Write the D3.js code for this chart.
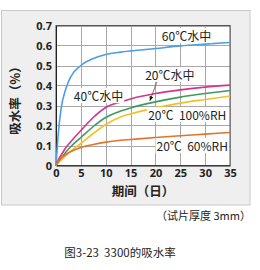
<!DOCTYPE html>
<html>
<head>
<meta charset="utf-8">
<script src="https://cdn.jsdelivr.net/npm/d3@7"></script>
<style>
  body { margin: 0; background: #fff; }
  svg text { font-family: "Noto Sans CJK SC", "Noto Sans", sans-serif; }
</style>
</head>
<body>
<div id="chart"></div>
<script>
// days on the x axis
const days = [0, 0.5, 1, 2, 3, 5, 7.5, 10, 13, 15, 20, 25, 30, 35];

// absorption (%) per condition
const water60 = [0, 0.17, 0.28, 0.385, 0.445, 0.50, 0.535, 0.555, 0.567, 0.573, 0.585, 0.598, 0.607, 0.615];
const water40 = [0, 0.03, 0.05, 0.09, 0.12, 0.175, 0.24, 0.29, 0.318, 0.333, 0.36, 0.378, 0.392, 0.402];
const water20 = [0, 0.02, 0.035, 0.068, 0.095, 0.14, 0.195, 0.24, 0.272, 0.288, 0.318, 0.342, 0.36, 0.375];
const rh100 = [0, 0.014, 0.025, 0.05, 0.072, 0.11, 0.16, 0.205, 0.243, 0.258, 0.288, 0.312, 0.33, 0.347];
const rh60 = [0, 0.02, 0.035, 0.055, 0.07, 0.09, 0.105, 0.117, 0.126, 0.13, 0.14, 0.149, 0.157, 0.165];

const xTicks = [0, 5, 10, 15, 20, 25, 30, 35];
const yTicks = [0, 0.1, 0.2, 0.3, 0.4, 0.5, 0.6, 0.7];

const series = [
    { name: "60℃水中", values: water60, color: "#4a9ee6" },
    { name: "40℃水中", values: water40, color: "#d6338c" },
    { name: "20℃水中", values: water20, color: "#3f9a5e" },
    { name: "20℃ 100%RH", values: rh100, color: "#f2c124" },
    { name: "20℃ 60%RH", values: rh60, color: "#e0742a" }
];

const width = 260, height = 270;
const plot = { left: 56, right: 230, top: 25.5, bottom: 165.5 };

const svg = d3.select("#chart").append("svg")
    .attr("width", width).attr("height", height);

// outer grey frame
svg.append("rect")
    .attr("x", 1.5).attr("y", 10.5).attr("width", 248.5).attr("height", 194.5)
    .attr("fill", "#efefef").attr("stroke", "#c8c8c8");

const x = d3.scaleLinear().domain([0, 35]).range([plot.left, plot.right]);
const y = d3.scaleLinear().domain([0, 0.7]).range([plot.bottom, plot.top]);

svg.append("rect")
    .attr("x", plot.left).attr("y", plot.top)
    .attr("width", plot.right - plot.left).attr("height", plot.bottom - plot.top)
    .attr("fill", "#fff");

// grid
let grid = svg.append("g").attr("stroke", "#a8a8a8").attr("stroke-width", 1);
grid.selectAll(".v").data(xTicks.slice(1)).enter().append("line")
    .attr("x1", d => Math.round(x(d)) + 0.5).attr("x2", d => Math.round(x(d)) + 0.5)
    .attr("y1", plot.top).attr("y2", plot.bottom);
grid.selectAll(".h").data(yTicks.slice(1)).enter().append("line")
    .attr("y1", d => Math.round(y(d)) + 0.5).attr("y2", d => Math.round(y(d)) + 0.5)
    .attr("x1", plot.left).attr("x2", plot.right);

// plot border
svg.append("rect")
    .attr("x", plot.left).attr("y", plot.top)
    .attr("width", plot.right - plot.left).attr("height", plot.bottom - plot.top)
    .attr("fill", "none").attr("stroke", "#555").attr("stroke-width", 1);

// axes
let xAxis = svg.append("g").attr("transform", `translate(0,${plot.bottom})`)
    .call(d3.axisBottom(x).tickValues(xTicks).tickSize(0).tickPadding(4));
let yAxis = svg.append("g").attr("transform", `translate(${plot.left},0)`)
    .call(d3.axisLeft(y).tickValues(yTicks).tickSize(0).tickPadding(4)
        .tickFormat(d => d === 0 ? "0" : d3.format(".1f")(d)));
[xAxis, yAxis].forEach(a => {
    a.select(".domain").attr("stroke", "#222");
    a.selectAll("text").attr("font-size", 11).attr("font-weight", 700).attr("fill", "#222")
        .style("font-family", "'Open Sans', 'Noto Sans', sans-serif");
});

// curves
const line = d3.line().x((d, i) => x(days[i])).y(d => y(d)).curve(d3.curveMonotoneX);
svg.append("g").selectAll("path").data(series).enter().append("path")
    .attr("d", d => line(d.values))
    .attr("fill", "none").attr("stroke", d => d.color).attr("stroke-width", 1.6);

// labels on the curves, with a white box behind each
const labels = [
    { text: "60℃水中", dx: 26.25, dy: 0.622 },
    { text: "20℃水中", dx: 22.9, dy: 0.427 },
    { text: "40℃水中", dx: 8.55, dy: 0.322 },
    { text: "20℃  100%RH", dx: 26.4, dy: 0.227 },
    { text: "20℃  60%RH", dx: 27.4, dy: 0.072 }
];
let labelG = svg.append("g");
labels.forEach(l => {
    let g = labelG.append("g");
    let t = g.append("text")
        .attr("x", x(l.dx)).attr("y", y(l.dy))
        .attr("text-anchor", "middle").attr("font-size", 12).attr("fill", "#222")
        .attr("xml:space", "preserve").style("white-space", "pre")
        .text(l.text);
    let bb = t.node().getBBox();
    g.insert("rect", "text")
        .attr("x", bb.x - 1).attr("y", bb.y + 1)
        .attr("width", bb.width + 2).attr("height", bb.height - 2)
        .attr("fill", "#fff");
});

// arrow from 20℃水中 label down to its curve
svg.append("defs").append("marker")
    .attr("id", "arr").attr("viewBox", "0 0 10 10").attr("refX", 9).attr("refY", 5)
    .attr("markerWidth", 6).attr("markerHeight", 6).attr("orient", "auto")
    .append("path").attr("d", "M0,1 L10,5 L0,9 Z").attr("fill", "#111");
svg.append("line")
    .attr("x1", x(20.3)).attr("y1", y(0.418))
    .attr("x2", x(18.9)).attr("y2", y(0.325))
    .attr("stroke", "#555").attr("stroke-width", 0.8).attr("marker-end", "url(#arr)");

// axis titles
svg.append("text")
    .attr("x", 143).attr("y", 196)
    .attr("text-anchor", "middle").attr("font-size", 12.5).attr("font-weight", 700).attr("fill", "#222")
    .text("期间（日）");
svg.append("text")
    .attr("transform", `translate(20,${(plot.top + plot.bottom) / 2 + 2}) rotate(-90)`)
    .attr("text-anchor", "middle").attr("font-size", 12.5).attr("font-weight", 700).attr("fill", "#222")
    .text("吸水率（%）");

// notes
svg.append("text")
    .attr("x", 251).attr("y", 220)
    .attr("text-anchor", "end").attr("font-size", 11).attr("fill", "#222")
    .text("（试片厚度 3mm）");
svg.append("text")
    .attr("x", 120).attr("y", 257)
    .attr("text-anchor", "middle").attr("font-size", 11.5).attr("fill", "#222")
    .attr("xml:space", "preserve").style("white-space", "pre")
    .text("图3-23  3300的吸水率");
</script>
</body>
</html>
